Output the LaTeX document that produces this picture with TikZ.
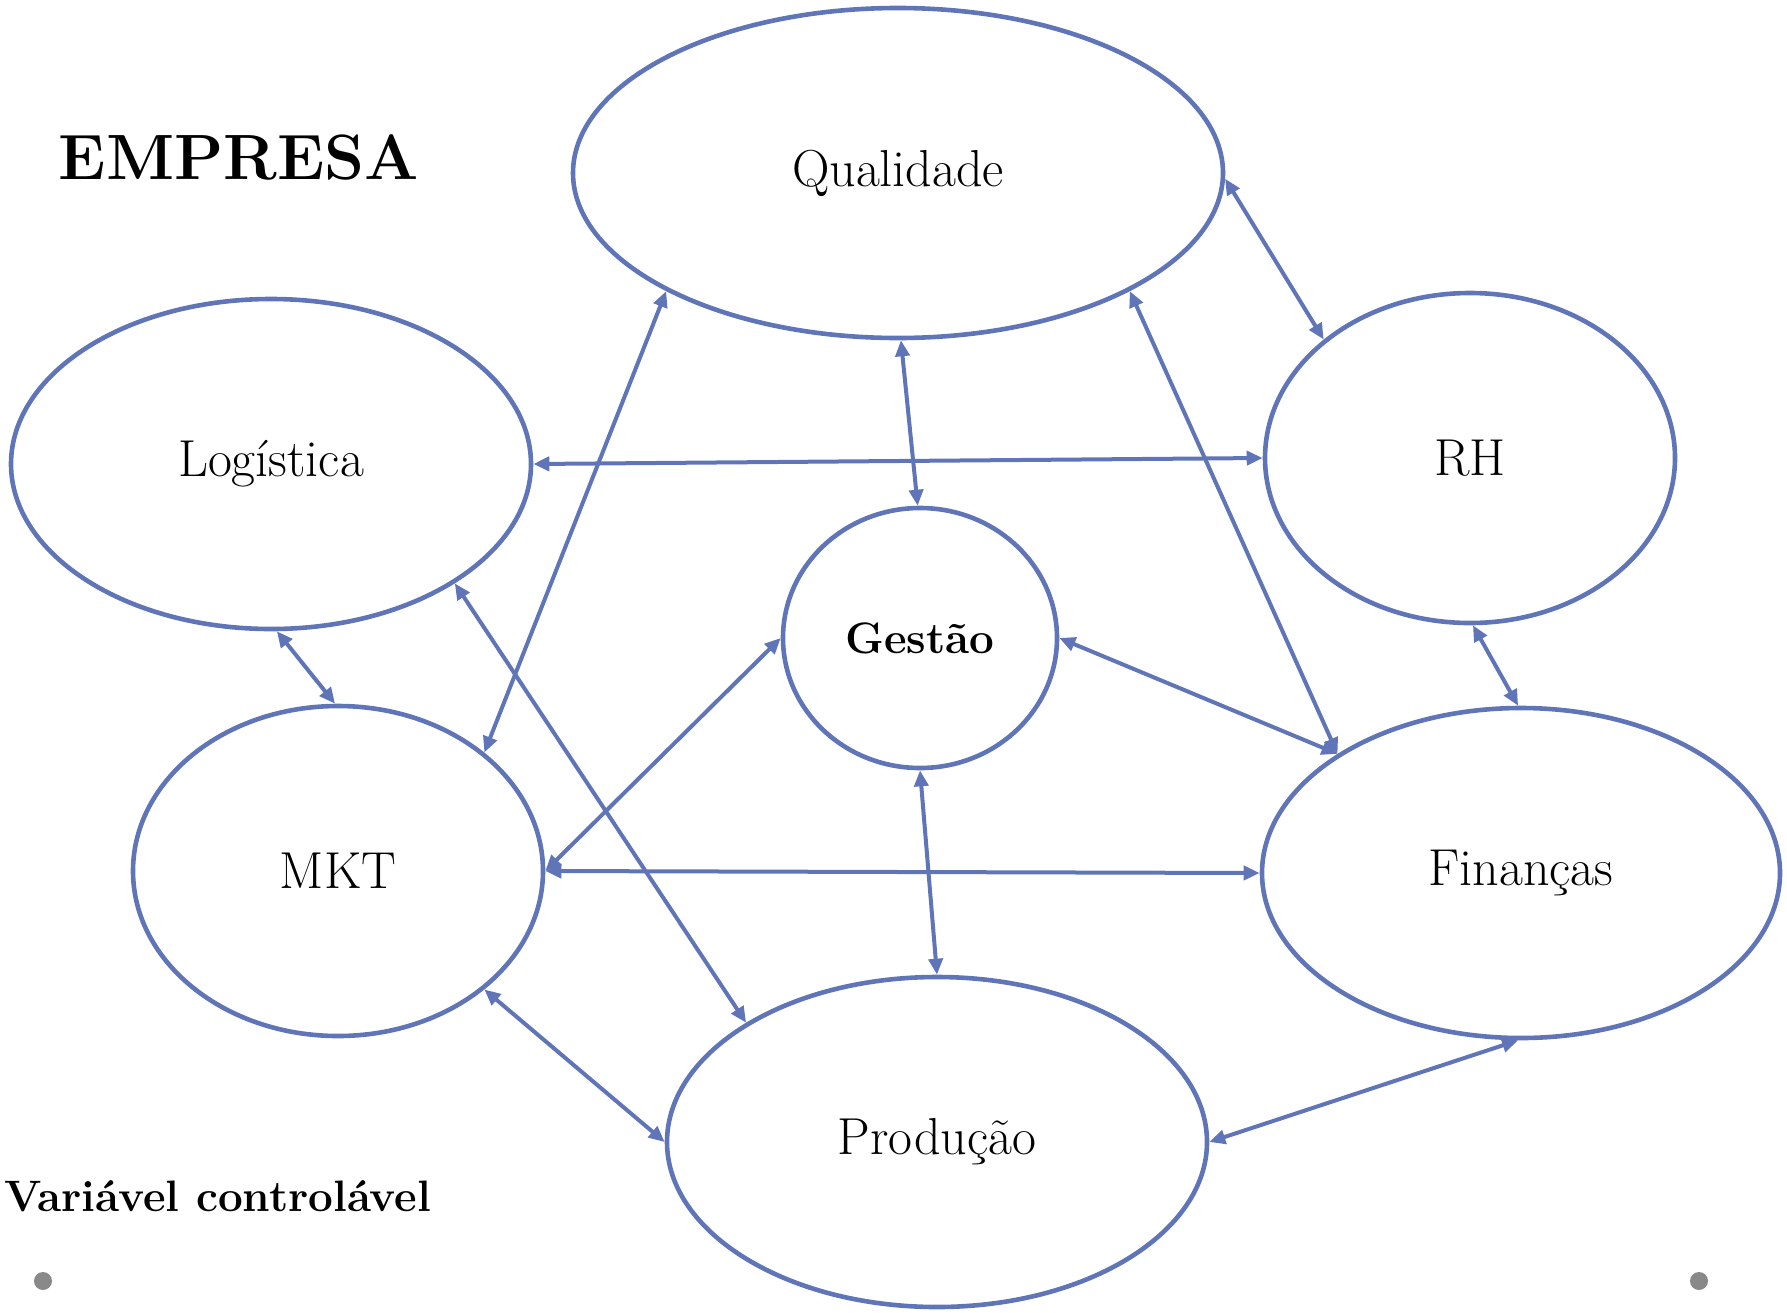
\documentclass[tikz,border=0pt]{standalone}
\usepackage{fontspec}
\usetikzlibrary{arrows.meta,shapes.geometric}
\definecolor{linec}{HTML}{6075B8}
\definecolor{dotc}{HTML}{898989}
\tikzset{
  ell/.style ={ellipse,draw=linec,line width=2.3pt,inner sep=0pt,
               font=\fontsize{26}{30}\selectfont},
  ar/.style  ={{Triangle[length=8pt,width=7pt]}-{Triangle[length=8pt,width=7pt]},
               draw=linec,line width=2pt},
  ttl/.style ={font=\fontsize{32}{38}\selectfont\bfseries},
  sub/.style ={font=\fontsize{22}{26}\selectfont\bfseries},
  gdot/.style={circle,fill=dotc,inner sep=0pt,minimum size=9pt},
}

\begin{document}
\begin{tikzpicture}[x=0.5pt,y=-0.5pt]
\useasboundingbox (0,0) rectangle (1787,1312);

% ---------- areas ---------------------------------------------------------
\node[ell,minimum width=325pt,minimum height=165pt] (q)   at (898,173)  {Qualidade};
\node[ell,minimum width=260pt,minimum height=165pt] (lo)  at (271,464)  {Logística};
\node[ell,minimum width=205pt,minimum height=165pt] (rh)  at (1470,458) {RH};
\node[ell,minimum width=137pt,minimum height=130pt,font=\fontsize{22}{26}\selectfont\bfseries]
  (ge) at (920,638) {Gestão};
\node[ell,minimum width=205pt,minimum height=165pt] (mkt) at (338,871)  {MKT};
\node[ell,minimum width=259pt,minimum height=165pt] (fin) at (1521,873) {Finanças};
\node[ell,minimum width=270pt,minimum height=165pt] (pro) at (937,1142) {Produção};

% ---------- links ---------------------------------------------------------
\draw[ar](q.-1)--(rh.141);  \draw[ar](q.-89)--(ge.91);
\draw[ar](q.207)--(mkt.39); \draw[ar](q.-27)--(fin.147);
\draw[ar](lo.0)--(rh.180);  \draw[ar](lo.-88)--(mkt.91);
\draw[ar](lo.-33)--(pro.148);
\draw[ar](rh.-89)--(fin.91);
\draw[ar](ge.0)--(fin.147); \draw[ar](ge.180)--(mkt.0);
\draw[ar](ge.-90)--(pro.90);
\draw[ar](mkt.0)--(fin.180); \draw[ar](mkt.-39)--(pro.180);
\draw[ar](fin.-91)--(pro.0);

% ---------- texts ---------------------------------------------------------
\node[ttl] (emp) at (239,157) {EMPRESA};
\node[sub,anchor=base west,inner sep=0pt] (var) at (4,1211) {Variável controlável};
\node[gdot] (d1) at (43,1281) {};
\node[gdot] (d2) at (1699,1281) {};
\end{tikzpicture}
\end{document}
